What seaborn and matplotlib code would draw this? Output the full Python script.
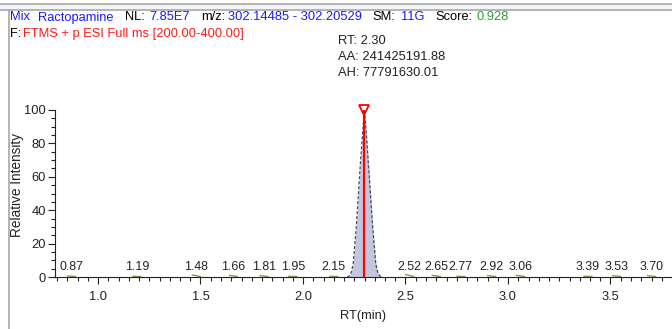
import matplotlib
matplotlib.use("Agg")
import matplotlib.pyplot as plt
import seaborn as sns
import numpy as np
import pandas as pd

# ---- data ----
peak_rt = [2.215, 2.225, 2.235, 2.245, 2.26, 2.28, 2.29, 2.30, 2.31, 2.32, 2.34, 2.355, 2.365, 2.375, 2.385]
peak_int = [0.0, 0.6, 2.5, 8.0, 30.0, 68.0, 85.0, 100.0, 84.0, 66.0, 30.0, 8.0, 2.5, 0.6, 0.0]
apex_rt = 2.30
apex_int = 100.0
label_rt = [0.87, 1.19, 1.48, 1.66, 1.81, 1.95, 2.15, 2.52, 2.65, 2.77, 2.92, 3.06, 3.39, 3.53, 3.70]
label_txt = ["0.87", "1.19", "1.48", "1.66", "1.81", "1.95", "2.15", "2.52", "2.65", "2.77",
             "2.92", "3.06", "3.39", "3.53", "3.70"]
blip_h = [0.6, 0.4, 1.2, 1.0, 0.8, 0.4, 0.4, 1.5, 1.0, 0.4, 0.8, 1.0, 0.4, 0.8, 0.8]
x_ticks = [1.0, 1.5, 2.0, 2.5, 3.0, 3.5]
x_ticklabels = ["1.0", "1.5", "2.0", "2.5", "3.0", "3.5"]
y_ticks = [0, 20, 40, 60, 80, 100]
y_ticklabels = ["0", "20", "40", "60", "80", "100"]
header1 = [("Mix", "#1a1aff"), ("Ractopamine", "#1a1aff"), ("NL:", "black"), ("7.85E7", "#1a1aff"),
           ("m/z:", "black"), ("302.14485 - 302.20529", "#1a1aff"), ("SM:", "black"),
           ("11G", "#1a1aff"), ("Score:", "black"), ("0.928", "#2ca02c")]
header1_gap = [8, 12, 4, 11, 3, 11, 5, 11, 4, 0]
header2 = [("F:", "black"), ("FTMS + p ESI Full ms [200.00-400.00]", "#ff1a1a")]
header2_gap = [2, 0]
annot = ["RT: 2.30", "AA: 241425191.88", "AH: 77791630.01"]

sns.set_theme(style="ticks")
plt.rcParams['font.family'] = ['Liberation Sans', 'DejaVu Sans']

FS = 9.3
W, H = 672, 329
fig = plt.figure(figsize=(W / 100, H / 100), dpi=100)
fig.patch.set_facecolor("white")

# frame decorations (window borders)
fig.add_artist(plt.Rectangle((0, 1 - 9.5 / H), 1, 6 / H, transform=fig.transFigure,
                             facecolor="#f2f5fa", edgecolor="none"))
fig.add_artist(plt.Line2D([0, 1], [1 - 3.5 / H] * 2, transform=fig.transFigure, color="#a8a8a8", lw=1.2))
fig.add_artist(plt.Line2D([0, 1], [1 - 9.5 / H] * 2, transform=fig.transFigure, color="#a8a8a8", lw=1.2))
fig.add_artist(plt.Line2D([8.5 / W] * 2, [0, 1 - 9.5 / H], transform=fig.transFigure, color="#a8a8a8", lw=1.2))

x0, x1 = 55, 672
y0, y1 = 277, 110
ax = fig.add_axes([x0 / W, 1 - y0 / H, (x1 - x0) / W, (y0 - y1) / H])
ax.set_facecolor("none")

px_per_min = 205.0
xmin = 1.0 - (98 - x0) / px_per_min
xmax = 1.0 + (x1 - 98) / px_per_min
ax.set_xlim(xmin, xmax)
ax.set_ylim(0, 100)

df = pd.DataFrame({"rt": peak_rt, "intensity": peak_int})
ax.fill_between(df["rt"], df["intensity"], color="#c3c6dc", lw=0, zorder=2)
sns.lineplot(data=df, x="rt", y="intensity", ax=ax, color="#4a4a5a", lw=0.9,
             linestyle=(0, (2.5, 1.5)), zorder=3)
ax.plot([apex_rt, apex_rt], [0, apex_int], color="#ff0000", lw=1.5, zorder=4, solid_capstyle="butt")
ax.plot([apex_rt], [apex_int], marker="v", ms=7, mfc="none", mec="#ff0000", mew=1.3,
        clip_on=False, zorder=5)

# small noise peaks + labels
for rt, h, t in zip(label_rt, blip_h, label_txt):
    ax.plot([rt - 0.02, rt + 0.02], [h, 0.3], color="#7f9a55", lw=1.0, zorder=2)
    ax.text(rt, 2.6, t, ha="center", va="bottom", fontsize=8.9, color="#222222")

# annotation above apex
for i, a in enumerate(annot):
    fig.text(338 / W, 1 - (41 + 16 * i) / H, a, ha="left", va="center", fontsize=FS, color="#222222")

# header, placed piece by piece
renderer = fig.canvas.get_renderer()


def place_row(pieces, gaps, ypix):
    xp = 10.0
    for (t, c), g in zip(pieces, gaps):
        tx = fig.text(xp / W, 1 - ypix / H, t, ha="left", va="center", fontsize=FS, color=c)
        bb = tx.get_window_extent(renderer=renderer)
        xp += bb.width + g


place_row(header1, header1_gap, 17.5)
place_row(header2, header2_gap, 34)

ax.set_xticks(x_ticks)
ax.set_xticklabels(x_ticklabels)
ax.set_xticks(np.arange(0.80, 3.81, 0.05), minor=True)
ax.set_yticks(y_ticks)
ax.set_yticklabels(y_ticklabels)
ax.set_yticks(np.arange(0, 101, 5), minor=True)
ax.tick_params(axis="both", which="major", direction="out", length=5, width=0.8,
               labelsize=FS, colors="#222222")
ax.tick_params(axis="x", which="major", pad=5)
ax.tick_params(axis="y", which="major", pad=1.5)
ax.tick_params(axis="both", which="minor", direction="out", length=3, width=0.8, colors="#222222")
ax.set_xlabel("RT(min)", fontsize=FS, labelpad=5, color="#222222")
ax.set_ylabel("Relative Intensity", fontsize=9.8, color="#222222")
ax.yaxis.set_label_coords((24 - x0) / (x1 - x0), 0.55)
sns.despine(ax=ax, top=True, right=True)
for s in ["left", "bottom"]:
    ax.spines[s].set_linewidth(0.8)
    ax.spines[s].set_color("#222222")
ax.spines["left"].set_bounds(0, 100)

fig.savefig("out.png", dpi=100)
